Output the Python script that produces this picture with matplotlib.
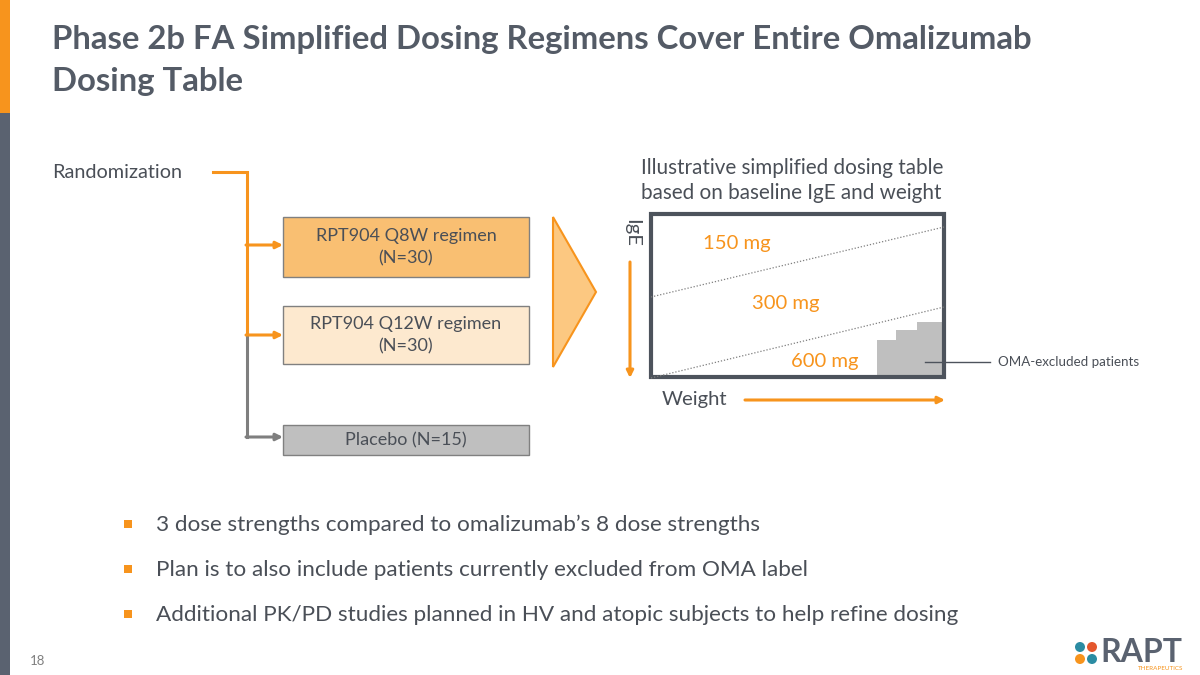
import matplotlib.pyplot as plt
from matplotlib.patches import Rectangle, Polygon, Circle

plt.rcParams['font.family'] = ['Lato', 'DejaVu Sans']

ORANGE = '#f7941d'
DARK = '#545b66'
TEXT = '#4a4f57'

title_lines = ['Phase 2b FA Simplified Dosing Regimens Cover Entire Omalizumab',
               'Dosing Table']
arm_labels = ['RPT904 Q8W regimen\n(N=30)', 'RPT904 Q12W regimen\n(N=30)', 'Placebo (N=15)']
arm_colors = ['#f9bf72', '#fde9cf', '#bfbfbf']
dose_labels = ['150 mg', '300 mg', '600 mg']
table_caption = ['Illustrative simplified dosing table', 'based on baseline IgE and weight']
bullets = ['3 dose strengths compared to omalizumab\u2019s 8 dose strengths',
           'Plan is to also include patients currently excluded from OMA label',
           'Additional PK/PD studies planned in HV and atopic subjects to help refine dosing']

fig = plt.figure(figsize=(12, 6.75), dpi=100)
ax = fig.add_axes([0, 0, 1, 1])
ax.set_xlim(0, 1200)
ax.set_ylim(675, 0)
ax.axis('off')

# side bar
ax.add_patch(Rectangle((0, 0), 10, 113, color=ORANGE, lw=0))
ax.add_patch(Rectangle((0, 113), 10, 562, color='#5a6270', lw=0))

# title
for i, line in enumerate(title_lines):
    ax.text(52, 40 + i * 41, line, fontsize=23.7, fontweight='bold', color=DARK,
            va='center', ha='left')

ax.text(52, 173, 'Randomization', fontsize=14.3, color=TEXT, va='center')

# bracket with arrows
ax.plot([213, 247, 247], [172, 172, 335], color=ORANGE, lw=2.2, solid_joinstyle='miter')
ax.plot([247, 247], [335, 437], color='#7f7f7f', lw=2.2)
arrow_ys = [245, 335, 437]
arrow_cols = [ORANGE, ORANGE, '#7f7f7f']
for y, c in zip(arrow_ys, arrow_cols):
    ax.annotate('', xy=(283, y), xytext=(246, y),
                arrowprops=dict(arrowstyle='-|>', color=c, lw=2.2, mutation_scale=10,
                                shrinkA=0, shrinkB=0))

# arm boxes
box_tops = [217, 306, 425]
box_h = [60, 58, 30]
for lab, col, top, h in zip(arm_labels, arm_colors, box_tops, box_h):
    ax.add_patch(Rectangle((283, top), 246, h, facecolor=col, edgecolor='#808080', lw=1))
    ax.text(406, top + h / 2, lab, fontsize=13, color=TEXT, ha='center', va='center',
            linespacing=1.45)

# big triangle arrow
ax.add_patch(Polygon([(553, 217), (596, 292), (553, 367)], closed=True,
                     facecolor='#fcc881', edgecolor=ORANGE, lw=1.5))

# dosing table
for i, line in enumerate(table_caption):
    ax.text(641, 168 + i * 25, line, fontsize=14.9, color=TEXT, va='center')

x0, x1, y0, y1 = 651, 944, 214, 377
# OMA-excluded staircase
stairs = [(877, 340), (896, 330), (917, 322)]
xs = [877]
ys = [y1]
for j, (sx, sy) in enumerate(stairs):
    nx = stairs[j + 1][0] if j + 1 < len(stairs) else x1
    xs += [sx, nx]
    ys += [sy, sy]
xs += [x1]
ys += [y1]
ax.add_patch(Polygon(list(zip(xs, ys)), closed=True, facecolor='#bfbfbf', edgecolor='none'))

ax.plot([x0, x1], [297, 227], color='#7f7f7f', lw=0.9, ls=(0, (1, 1.5)))
ax.plot([x0, x1], [378, 307], color='#7f7f7f', lw=0.9, ls=(0, (1, 1.5)))
ax.add_patch(Rectangle((x0, y0), x1 - x0, y1 - y0, facecolor='none', edgecolor='#4d535c', lw=3))

dose_pos = [(737, 243), (786, 304), (825, 361)]
for lab, (dx, dy) in zip(dose_labels, dose_pos):
    ax.text(dx, dy, lab, fontsize=14.6, color=ORANGE, ha='center', va='center')

ax.text(632, 233, 'IgE', fontsize=14.6, color=TEXT, rotation=-90, ha='center', va='center')
ax.annotate('', xy=(630, 378), xytext=(630, 262),
            arrowprops=dict(arrowstyle='-|>', color=ORANGE, lw=2.2, mutation_scale=10,
                            shrinkA=0, shrinkB=0))
ax.text(662, 400, 'Weight', fontsize=14.6, color=TEXT, va='center')
ax.annotate('', xy=(945, 400), xytext=(745, 400),
            arrowprops=dict(arrowstyle='-|>', color=ORANGE, lw=2.2, mutation_scale=10,
                            shrinkA=0, shrinkB=0))

ax.plot([925, 990], [362, 362], color='#4d535c', lw=1)
ax.text(998, 362, 'OMA-excluded patients', fontsize=9.6, color=TEXT, va='center')

# bullets
for i, b in enumerate(bullets):
    y = 525 + i * 45
    ax.add_patch(Rectangle((124, y - 5), 8, 8, color=ORANGE, lw=0))
    ax.text(156, y, b, fontsize=16.2, color=TEXT, va='center')

ax.text(38, 661, '18', fontsize=9.5, color='#808080', va='center', ha='center')

# logo
logo_cols = ['#2b8ca3', '#e4572e', '#f7941d', '#2b8ca3']
for (cx, cy), c in zip([(1080, 647), (1092, 647), (1080, 659), (1092, 659)], logo_cols):
    ax.add_patch(Circle((cx, cy), 5, color=c, lw=0))
ax.text(1100, 653, 'RAPT', fontsize=23, fontweight='bold', color='#5a6270', va='center')
ax.text(1183, 669, 'THERAPEUTICS', fontsize=4.5, color=ORANGE, va='center', ha='right')

fig.savefig('out.png', dpi=100)
